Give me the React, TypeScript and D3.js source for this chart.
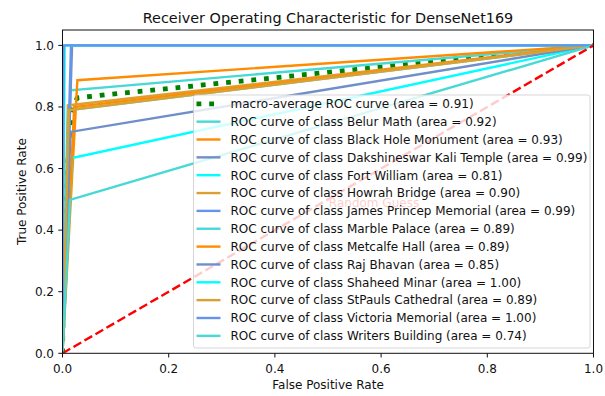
import React from 'react';
import * as d3 from 'd3';

// ROC curve for each class: (0,0) -> (fpr, tpr) -> (1,1)
const classNames = [
  'Belur Math', 'Black Hole Monument', 'Dakshineswar Kali Temple', 'Fort William',
  'Howrah Bridge', 'James Princep Memorial', 'Marble Palace', 'Metcalfe Hall',
  'Raj Bhavan', 'Shaheed Minar', 'StPauls Cathedral', 'Victoria Memorial', 'Writers Building',
];
const classAUC = ['0.92', '0.93', '0.99', '0.81', '0.90', '0.99', '0.89', '0.89', '0.85', '1.00', '0.89', '1.00', '0.74'];
const cornerFPR = [0.015, 0.028, 0.018, 0.018, 0.010, 0.016, 0.011, 0.022, 0.015, 0.004, 0.012, 0.002, 0.014];
const cornerTPR = [0.854, 0.887, 1.0, 0.634, 0.805, 1.0, 0.789, 0.80, 0.719, 1.0, 0.79, 1.0, 0.498];
const classColors = [
  '#48d8d6', '#ff8c00', '#6f8fc9', '#00ffff', '#dba033', '#6495ed', '#48d8d6',
  '#ff8c00', '#6f8fc9', '#00ffff', '#dba033', '#6495ed', '#48d8d6',
];

const macroFPR = [0, 0.002, 0.004, 0.010, 0.014, 0.018, 0.022, 0.028, 1];
const macroTPR = [0, 0.25, 0.40, 0.62, 0.74, 0.78, 0.81, 0.83, 1];
const macroAUC = '0.91';

const xTicks = [0, 0.2, 0.4, 0.6, 0.8, 1.0];
const yTicks = [0, 0.2, 0.4, 0.6, 0.8, 1.0];

const W = 605, H = 396;
const L = 62.5, R = 593.5, T = 30, B = 353.3;
const font = '"DejaVu Sans", sans-serif';

export default function App() {
  const x = d3.scaleLinear().domain([0, 1]).range([L, R]);
  const y = d3.scaleLinear().domain([0, 1.05]).range([B, T]);
  const line = d3.line<[number, number]>().x(d => x(d[0])).y(d => y(d[1]));

  const curves = classNames.map((name, i) => ({
    name,
    color: classColors[i],
    pts: [[0, 0], [cornerFPR[i], cornerTPR[i]], [1, 1]] as [number, number][],
  }));
  const macroPts = macroFPR.map((f, i) => [f, macroTPR[i]] as [number, number]);

  const legendItems = [
    { label: `macro-average ROC curve (area = ${macroAUC})`, color: 'green', macro: true },
    ...classNames.map((n, i) => ({ label: `ROC curve of class ${n} (area = ${classAUC[i]})`, color: classColors[i], macro: false })),
  ];
  const lgX = 193.5, lgY = 95, lgW = 396.5, lgH = 253;
  const rowY = (i: number) => 103.8 + i * 17.85;

  return (
    <svg width={W} height={H} style={{ position: 'absolute', left: 0, top: 0, background: '#fff' }} fontFamily={font}>
      <defs>
        <clipPath id="plot"><rect x={L} y={T} width={R - L} height={B - T} /></clipPath>
      </defs>
      <text x={(L + R) / 2} y={22.5} fontSize={14.4} textAnchor="middle" fill="#111">
        Receiver Operating Characteristic for DenseNet169
      </text>

      <g clipPath="url(#plot)">
        <path d={line(macroPts) || ''} fill="none" stroke="green" strokeWidth={4.8} strokeDasharray="4.8 7.9" />
        {curves.map(c => (
          <path key={c.name} d={line(c.pts) || ''} fill="none" stroke={c.color} strokeWidth={2.4} strokeLinejoin="miter" />
        ))}
        <path d={line([[0, 0], [1, 1]]) || ''} fill="none" stroke="red" strokeWidth={2.4} strokeDasharray="8.9 3.8" />
      </g>

      <text x={374} y={207} fontSize={12} textAnchor="middle" fill="red">Random Guess</text>

      <rect x={L} y={T} width={R - L} height={B - T} fill="none" stroke="#111" strokeWidth={1} />
      {xTicks.map(t => (
        <g key={'x' + t}>
          <line x1={x(t)} x2={x(t)} y1={B} y2={B + 4.2} stroke="#111" />
          <text x={x(t)} y={372.5} fontSize={12} textAnchor="middle" fill="#111">{t.toFixed(1)}</text>
        </g>
      ))}
      {yTicks.map(t => (
        <g key={'y' + t}>
          <line x1={L - 4.2} x2={L} y1={y(t)} y2={y(t)} stroke="#111" />
          <text x={54} y={y(t) + 4.3} fontSize={12} textAnchor="end" fill="#111">{t.toFixed(1)}</text>
        </g>
      ))}
      <text x={(L + R) / 2} y={388.5} fontSize={12} textAnchor="middle" fill="#111">False Positive Rate</text>
      <text transform={`translate(25.5, ${(T + B) / 2}) rotate(-90)`} fontSize={12} textAnchor="middle" fill="#111">
        True Positive Rate
      </text>

      <g>
        <rect x={lgX} y={lgY} width={lgW} height={lgH} rx={2.5} fill="#fff" fillOpacity={0.8} stroke="#cccccc" strokeOpacity={0.8} />
        {legendItems.map((it, i) => (
          <g key={it.label}>
            {it.macro ? (
              <line x1={196.5} x2={220.5} y1={rowY(i)} y2={rowY(i)} stroke={it.color} strokeWidth={4.8} strokeDasharray="4.8 7.9" />
            ) : (
              <line x1={196.5} x2={220.5} y1={rowY(i)} y2={rowY(i)} stroke={it.color} strokeWidth={2.4} />
            )}
            <text x={230.5} y={rowY(i) + 4.3} fontSize={12} fill="#111">{it.label}</text>
          </g>
        ))}
      </g>
    </svg>
  );
}
